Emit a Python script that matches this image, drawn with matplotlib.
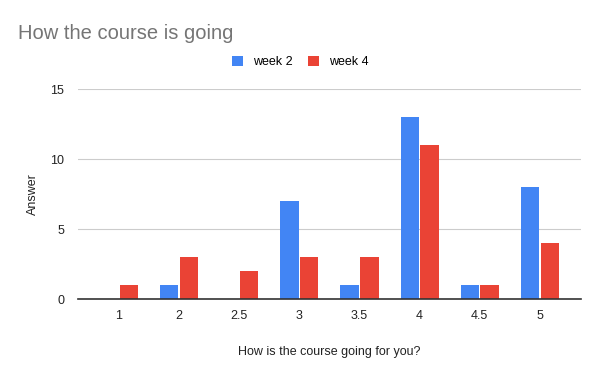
import matplotlib
matplotlib.use("Agg")
import matplotlib.pyplot as plt
import numpy as np

categories = ["1", "2", "2.5", "3", "3.5", "4", "4.5", "5"]
week2 = [0, 1, 0, 7, 1, 13, 1, 8]
week4 = [1, 3, 2, 3, 3, 11, 1, 4]
yticks = [0, 5, 10, 15]

plt.rcParams['font.family'] = ['Liberation Sans', 'DejaVu Sans']

fig = plt.figure(figsize=(6, 3.71), dpi=100)
ax = fig.add_axes([0.13, 0.194, 0.838, 0.566])

x = np.arange(len(categories))
w = 0.305
gap = 0.012
ax.bar(x - w/2 - gap, week2, w, color="#4285F4", label="week 2", zorder=3)
ax.bar(x + w/2 + gap, week4, w, color="#EA4335", label="week 4", zorder=3)

ax.set_xlim(-0.68, 7.68)
ax.set_ylim(0, 15)
ax.set_yticks(yticks)
ax.set_xticks(x)
ax.set_xticklabels(categories)
ax.grid(axis='y', color="#cccccc", linewidth=0.8, zorder=0)
for s in ['top', 'right', 'left']:
    ax.spines[s].set_visible(False)
ax.spines['bottom'].set_color("#333333")
ax.spines['bottom'].set_linewidth(1.2)
ax.spines['bottom'].set_zorder(4)
ax.tick_params(axis='both', length=0, labelsize=9, colors="#222222", pad=8)
ax.tick_params(axis='y', pad=10)

ax.set_xlabel("How is the course going for you?", fontsize=9, color="#222222", labelpad=17)
ax.set_ylabel("Answer", fontsize=9, color="#222222", labelpad=8)

fig.text(0.03, 0.91, "How the course is going", fontsize=14.5, color="#757575", ha='left', va='center')

fig.legend(*ax.get_legend_handles_labels(), loc='center', bbox_to_anchor=(0.5, 1 - 62/371), ncol=2,
           frameon=False, fontsize=9, handlelength=0.9, handleheight=0.9,
           columnspacing=1.2, handletextpad=0.8)

fig.savefig("out.png", dpi=100)
